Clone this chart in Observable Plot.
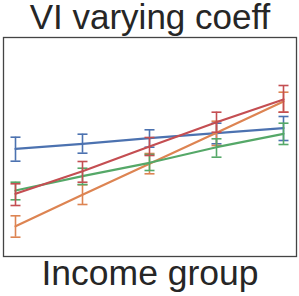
<!DOCTYPE html>
<html>
<head>
<meta charset="utf-8">
<script src="https://cdn.jsdelivr.net/npm/d3@7"></script>
<script src="https://cdn.jsdelivr.net/npm/@observablehq/plot@0.6"></script>
<style>
  html, body { margin: 0; padding: 0; background: #fff; }
  svg { display: block; }
</style>
</head>
<body>
<div id="chart"></div>
<script>
const titleText = "VI varying coeff";
const xLabel = "Income group";
const incomeGroups = [1, 2, 3, 4, 5];
const seriesNames = ["Series 1", "Series 2", "Series 3", "Series 4"];
const seriesColors = ["#4c72b0", "#dd8452", "#55a868", "#c44e52"];

// estimated coefficient values (arbitrary units), per series
const meanBlue   = [1.077, 1.127, 1.183, 1.233, 1.283];
const lowBlue    = [0.953, 1.033, 1.093, 1.127, 1.160];
const highBlue   = [1.193, 1.223, 1.267, 1.333, 1.400];

const meanOrange = [0.303, 0.617, 0.927, 1.237, 1.550];
const lowOrange  = [0.193, 0.520, 0.827, 1.110, 1.443];
const highOrange = [0.407, 0.717, 1.030, 1.353, 1.643];

const meanGreen  = [0.660, 0.803, 0.937, 1.093, 1.227];
const lowGreen   = [0.567, 0.720, 0.860, 0.993, 1.120];
const highGreen  = [0.743, 0.883, 1.020, 1.177, 1.333];

const meanRed    = [0.627, 0.853, 1.100, 1.343, 1.570];
const lowRed     = [0.510, 0.743, 1.010, 1.243, 1.443];
const highRed    = [0.727, 0.950, 1.190, 1.443, 1.710];

const means = [meanBlue, meanOrange, meanGreen, meanRed];
const lows  = [lowBlue, lowOrange, lowGreen, lowRed];
const highs = [highBlue, highOrange, highGreen, highRed];

const rows = [];
seriesNames.forEach((s, si) => {
  incomeGroups.forEach((g, gi) => {
    rows.push({series: s, group: g, mean: means[si][gi], lo: lows[si][gi], hi: highs[si][gi]});
  });
});

const capSymbol = {
  draw(context, size) {
    const w = Math.sqrt(size / Math.PI);
    context.moveTo(-w, 0);
    context.lineTo(w, 0);
  }
};

const font = "'Liberation Sans', Arial, Helvetica, sans-serif";

const marks = [];
seriesNames.forEach((s, si) => {
  const d = rows.filter(r => r.series === s);
  const c = seriesColors[si];
  marks.push(Plot.ruleX(d, {x: "group", y1: "lo", y2: "hi", stroke: c, strokeWidth: 1.6}));
  marks.push(Plot.dot(d, {x: "group", y: "lo", symbol: capSymbol, r: 5, stroke: c, strokeWidth: 1.6, fill: "none"}));
  marks.push(Plot.dot(d, {x: "group", y: "hi", symbol: capSymbol, r: 5, stroke: c, strokeWidth: 1.6, fill: "none"}));
  marks.push(Plot.line(d, {x: "group", y: "mean", stroke: c, strokeWidth: 2.2}));
});

const chart = Plot.plot({
  width: 299,
  height: 296,
  marginTop: 37,
  marginBottom: 40,
  marginLeft: 3,
  marginRight: 3,
  style: {fontFamily: font, background: "#fff"},
  x: {type: "linear", domain: [1, 5], insetLeft: 12, insetRight: 13, axis: null},
  y: {domain: [0, 2.19], axis: null},
  marks: [
    ...marks,
    Plot.frame({stroke: "#444", strokeWidth: 1.3}),
    Plot.text([titleText], {frameAnchor: "top", dy: -19.6, fontSize: 35, fill: "#262626", lineAnchor: "middle", fontFamily: font}),
    Plot.text([xLabel], {frameAnchor: "bottom", dy: 17.5, fontSize: 35.5, fill: "#262626", lineAnchor: "middle", fontFamily: font})
  ]
});
document.getElementById("chart").appendChild(chart);
</script>
</body>
</html>
